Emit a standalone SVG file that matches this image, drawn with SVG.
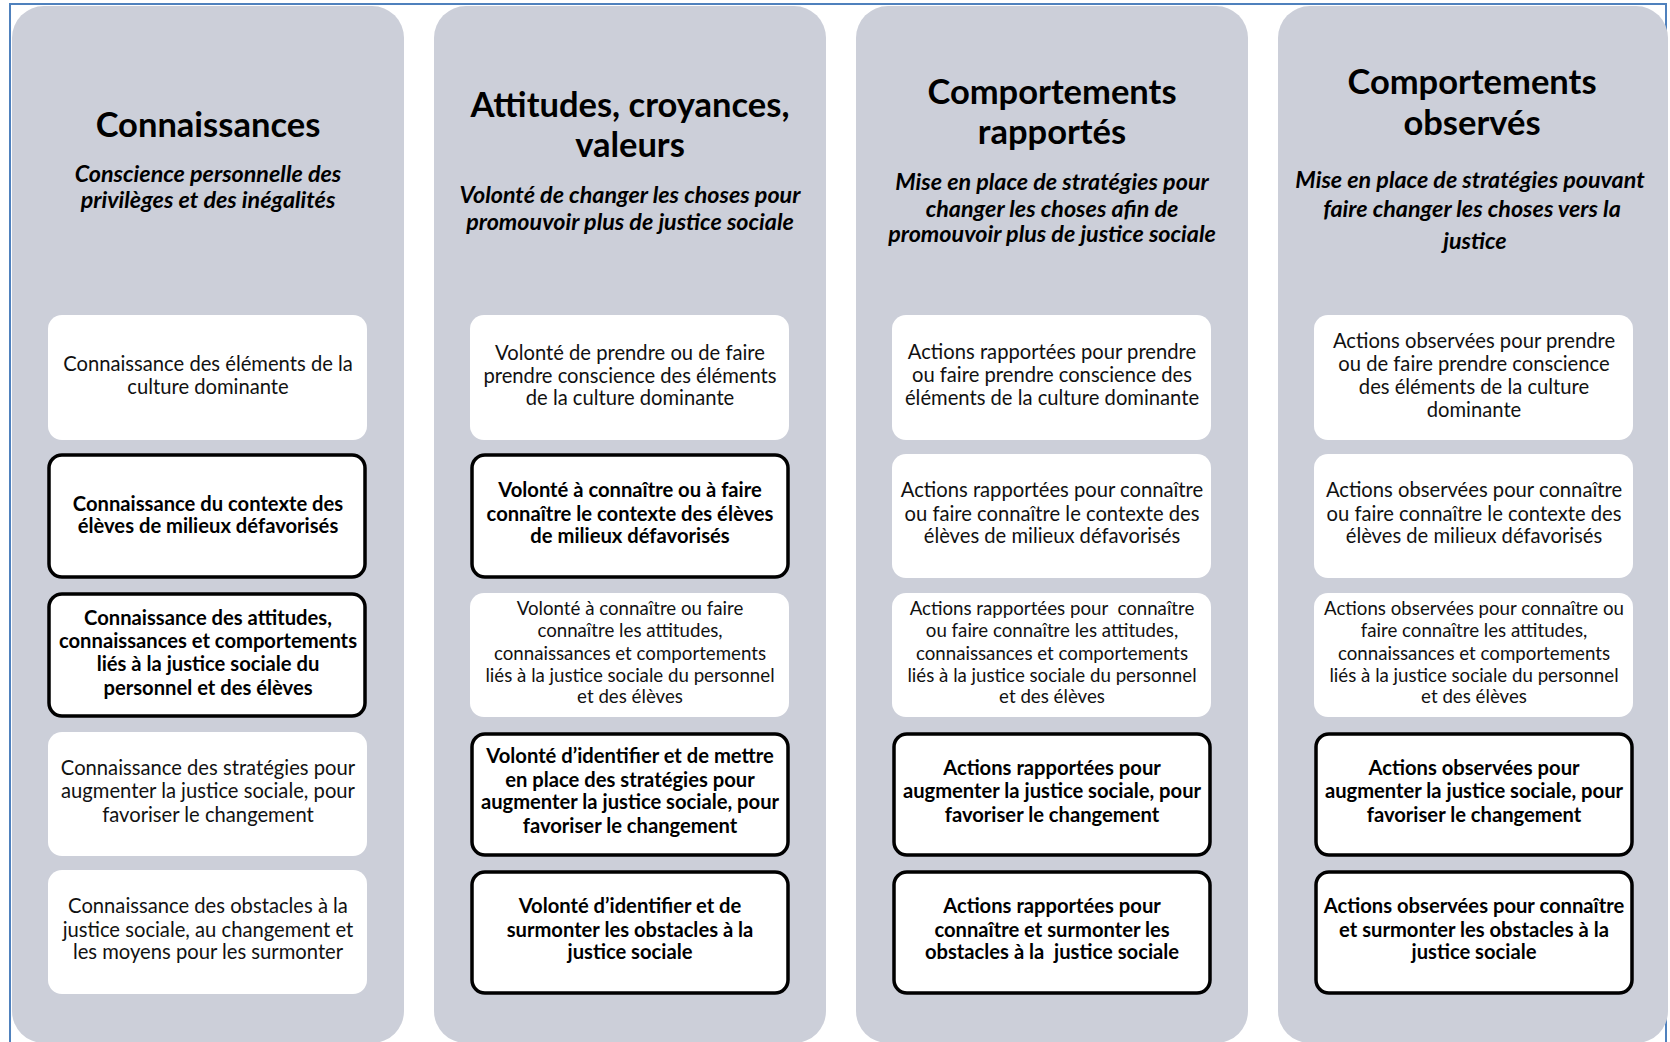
<svg xmlns="http://www.w3.org/2000/svg" width="1670" height="1042" viewBox="0 0 1670 1042">
<style>
.frame{fill:none;stroke:#4F81BD;stroke-width:2}
.col{fill:#CCCFD9}
.box{fill:#FFFFFF}
.boxb{fill:#FFFFFF;stroke:#000;stroke-width:3.5}
text{font-family:Lato,"Liberation Sans",sans-serif;text-anchor:middle;fill:#111}
.t{font-size:20.2px}
.tb{font-size:20.2px;font-weight:bold;fill:#000}
.ts{font-size:18.7px}
.title{font-size:34.5px;font-weight:bold;fill:#000}
.sub{font-size:23.3px;font-weight:bold;font-style:italic;fill:#000}
</style>
<rect class="frame" x="10" y="4" width="1656" height="1060"/>
<g id="col1">
<rect class="col" x="12" y="6" width="392" height="1037" rx="32"/>
<text class="title" x="208" y="137">Connaissances</text>
<text class="sub" x="208" y="182">Conscience personnelle des</text>
<text class="sub" x="208" y="208">privilèges et des inégalités</text>
</g>
<g id="col2">
<rect class="col" x="434" y="6" width="392" height="1037" rx="32"/>
<text class="title" x="630" y="117">Attitudes, croyances,</text>
<text class="title" x="630" y="157">valeurs</text>
<text class="sub" x="630" y="203">Volonté de changer les choses pour</text>
<text class="sub" x="630" y="230">promouvoir plus de justice sociale</text>
</g>
<g id="col3">
<rect class="col" x="856" y="6" width="392" height="1037" rx="32"/>
<text class="title" x="1052" y="104">Comportements</text>
<text class="title" x="1052" y="144">rapportés</text>
<text class="sub" x="1052" y="190">Mise en place de stratégies pour</text>
<text class="sub" x="1052" y="217">changer les choses afin de</text>
<text class="sub" x="1052" y="242">promouvoir plus de justice sociale</text>
</g>
<g id="col4">
<rect class="col" x="1278" y="6" width="390" height="1037" rx="32"/>
<text class="title" x="1472" y="94">Comportements</text>
<text class="title" x="1472" y="135">observés</text>
<text class="sub" x="1470" y="188">Mise en place de stratégies pouvant</text>
<text class="sub" x="1472" y="217">faire changer les choses vers la</text>
<text class="sub" x="1475" y="249">justice</text>
</g>

<g id="c1b1"><rect class="box" x="48" y="315" width="319" height="125" rx="14"/>
<text class="t" x="208" y="371">Connaissance des éléments de la</text>
<text class="t" x="208" y="394">culture dominante</text></g>
<g id="c1b2"><rect class="boxb" x="49" y="455" width="316" height="122" rx="13"/>
<text class="tb" x="208" y="511">Connaissance du contexte des</text>
<text class="tb" x="208" y="533">élèves de milieux défavorisés</text></g>
<g id="c1b3"><rect class="boxb" x="49" y="594" width="316" height="122" rx="13"/>
<text class="tb" x="208" y="625">Connaissance des attitudes,</text>
<text class="tb" x="208" y="648">connaissances et comportements</text>
<text class="tb" x="208" y="671">liés à la justice sociale du</text>
<text class="tb" x="208" y="695">personnel et des élèves</text></g>
<g id="c1b4"><rect class="box" x="48" y="732" width="319" height="124" rx="14"/>
<text class="t" x="208" y="775">Connaissance des stratégies pour</text>
<text class="t" x="208" y="798">augmenter la justice sociale, pour</text>
<text class="t" x="208" y="822">favoriser le changement</text></g>
<g id="c1b5"><rect class="box" x="48" y="870" width="319" height="124" rx="14"/>
<text class="t" x="208" y="913">Connaissance des obstacles à la</text>
<text class="t" x="208" y="937">justice sociale, au changement et</text>
<text class="t" x="208" y="959">les moyens pour les surmonter</text></g>

<g id="c2b1"><rect class="box" x="470" y="315" width="319" height="125" rx="14"/>
<text class="t" x="630" y="360">Volonté de prendre ou de faire</text>
<text class="t" x="630" y="383">prendre conscience des éléments</text>
<text class="t" x="630" y="405">de la culture dominante</text></g>
<g id="c2b2"><rect class="boxb" x="472" y="455" width="316" height="122" rx="13"/>
<text class="tb" x="630" y="497">Volonté à connaître ou à faire</text>
<text class="tb" x="630" y="521">connaître le contexte des élèves</text>
<text class="tb" x="630" y="543">de milieux défavorisés</text></g>
<g id="c2b3"><rect class="box" x="470" y="593" width="319" height="124" rx="14"/>
<text class="ts" x="630" y="615">Volonté à connaître ou faire</text>
<text class="ts" x="630" y="637">connaître les attitudes,</text>
<text class="ts" x="630" y="660">connaissances et comportements</text>
<text class="ts" x="630" y="682">liés à la justice sociale du personnel</text>
<text class="ts" x="630" y="703">et des élèves</text></g>
<g id="c2b4"><rect class="boxb" x="472" y="734" width="316" height="121" rx="13"/>
<text class="tb" x="630" y="763">Volonté d’identifier et de mettre</text>
<text class="tb" x="630" y="787">en place des stratégies pour</text>
<text class="tb" x="630" y="809">augmenter la justice sociale, pour</text>
<text class="tb" x="630" y="833">favoriser le changement</text></g>
<g id="c2b5"><rect class="boxb" x="472" y="872" width="316" height="121" rx="13"/>
<text class="tb" x="630" y="913">Volonté d’identifier et de</text>
<text class="tb" x="630" y="937">surmonter les obstacles à la</text>
<text class="tb" x="630" y="959">justice sociale</text></g>

<g id="c3b1"><rect class="box" x="892" y="315" width="319" height="125" rx="14"/>
<text class="t" x="1052" y="359">Actions rapportées pour prendre</text>
<text class="t" x="1052" y="382">ou faire prendre conscience des</text>
<text class="t" x="1052" y="405">éléments de la culture dominante</text></g>
<g id="c3b2"><rect class="box" x="892" y="454" width="319" height="124" rx="14"/>
<text class="t" x="1052" y="497">Actions rapportées pour connaître</text>
<text class="t" x="1052" y="521">ou faire connaître le contexte des</text>
<text class="t" x="1052" y="543">élèves de milieux défavorisés</text></g>
<g id="c3b3"><rect class="box" x="892" y="593" width="319" height="124" rx="14"/>
<text class="ts" x="1052" y="615" xml:space="preserve">Actions rapportées pour  connaître</text>
<text class="ts" x="1052" y="637">ou faire connaître les attitudes,</text>
<text class="ts" x="1052" y="660">connaissances et comportements</text>
<text class="ts" x="1052" y="682">liés à la justice sociale du personnel</text>
<text class="ts" x="1052" y="703">et des élèves</text></g>
<g id="c3b4"><rect class="boxb" x="894" y="734" width="316" height="121" rx="13"/>
<text class="tb" x="1052" y="775">Actions rapportées pour</text>
<text class="tb" x="1052" y="798">augmenter la justice sociale, pour</text>
<text class="tb" x="1052" y="822">favoriser le changement</text></g>
<g id="c3b5"><rect class="boxb" x="894" y="872" width="316" height="121" rx="13"/>
<text class="tb" x="1052" y="913">Actions rapportées pour</text>
<text class="tb" x="1052" y="937">connaître et surmonter les</text>
<text class="tb" x="1052" y="959" xml:space="preserve">obstacles à la  justice sociale</text></g>

<g id="c4b1"><rect class="box" x="1314" y="315" width="319" height="125" rx="14"/>
<text class="t" x="1474" y="348">Actions observées pour prendre</text>
<text class="t" x="1474" y="371">ou de faire prendre conscience</text>
<text class="t" x="1474" y="394">des éléments de la culture</text>
<text class="t" x="1474" y="417">dominante</text></g>
<g id="c4b2"><rect class="box" x="1314" y="454" width="319" height="124" rx="14"/>
<text class="t" x="1474" y="497">Actions observées pour connaître</text>
<text class="t" x="1474" y="521">ou faire connaître le contexte des</text>
<text class="t" x="1474" y="543">élèves de milieux défavorisés</text></g>
<g id="c4b3"><rect class="box" x="1314" y="593" width="319" height="124" rx="14"/>
<text class="ts" x="1474" y="615">Actions observées pour connaître ou</text>
<text class="ts" x="1474" y="637">faire connaître les attitudes,</text>
<text class="ts" x="1474" y="660">connaissances et comportements</text>
<text class="ts" x="1474" y="682">liés à la justice sociale du personnel</text>
<text class="ts" x="1474" y="703">et des élèves</text></g>
<g id="c4b4"><rect class="boxb" x="1316" y="734" width="316" height="121" rx="13"/>
<text class="tb" x="1474" y="775">Actions observées pour</text>
<text class="tb" x="1474" y="798">augmenter la justice sociale, pour</text>
<text class="tb" x="1474" y="822">favoriser le changement</text></g>
<g id="c4b5"><rect class="boxb" x="1316" y="872" width="316" height="121" rx="13"/>
<text class="tb" x="1474" y="913">Actions observées pour connaître</text>
<text class="tb" x="1474" y="937">et surmonter les obstacles à la</text>
<text class="tb" x="1474" y="959">justice sociale</text></g>
<g id="connectors"/>
</svg>
